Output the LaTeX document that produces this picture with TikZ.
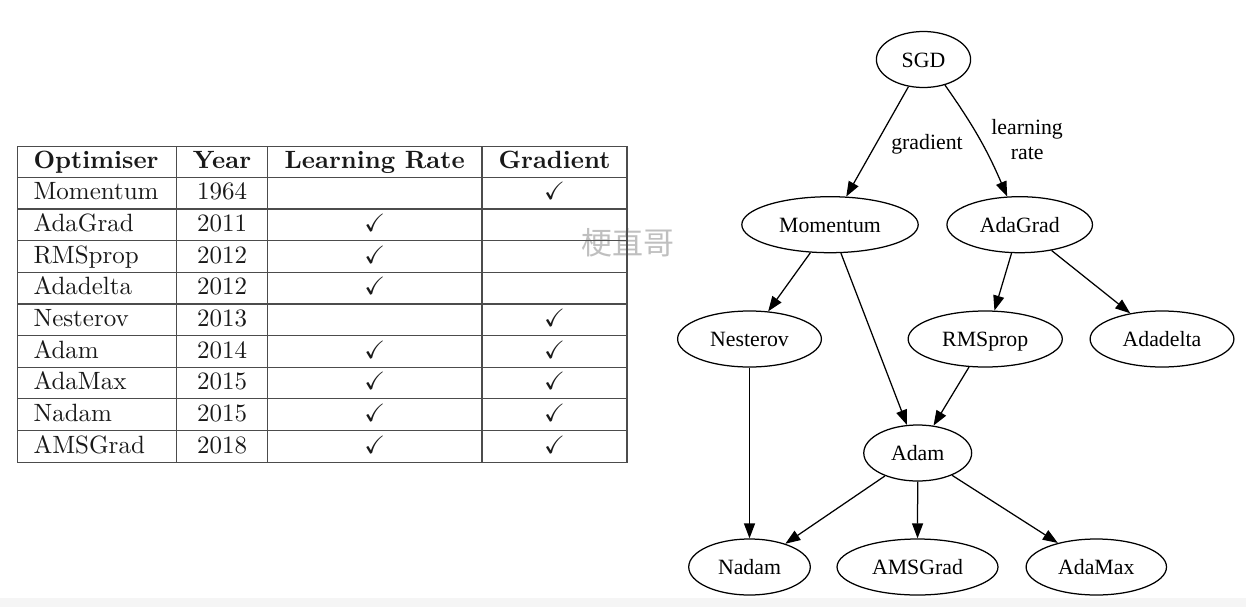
\documentclass[tikz,border=0pt]{standalone}
\usepackage{amssymb}
\usepackage{fontspec}
\newfontfamily\tabfont{lmroman10-regular}[Extension=.otf,BoldFont=lmroman10-bold]
\newfontfamily\graphfont{Liberation Serif}
\newfontfamily\markfont{Noto Sans CJK SC}
\usetikzlibrary{arrows.meta,positioning,shapes.geometric}

\begin{document}
\begin{tikzpicture}[
  x=1pt,y=-1pt,
  >={Triangle[length=15pt,width=11pt]},
  algo/.style={ellipse,draw,line width=1.25pt,minimum height=56pt,
    inner xsep=11.5pt,inner ysep=0pt,text height=19.5pt,text depth=4.3pt,
    font=\graphfont\fontsize{21.8}{25}\selectfont},
  tag/.style={align=center,font=\graphfont\fontsize{21.8}{25}\selectfont},
  link/.style={->,line width=1.25pt},
  cell/.style={anchor=base,inner sep=0pt,text=black!90,
    font=\tabfont\fontsize{25}{30}\selectfont},
  head/.style={cell,font=\tabfont\fontsize{25}{30}\selectfont\bfseries},
  tabline/.style={draw=black!70,line width=1.2pt}
]
  \useasboundingbox (0,0) rectangle (1246,607);
  \fill[black!4] (0,598) rectangle (1246,607);

  % watermark
  \node[text=black!25,font=\markfont\fontsize{31}{31}\selectfont] (mark)
    at (627.5,242.5) {梗直哥};

  % table
  \draw[tabline] (17.3,146.7) rectangle (627,462.2);
  \foreach \k in {0,...,8}
    \draw[tabline] (17.3,{177.3+31.65*\k}) -- (627,{177.3+31.65*\k});
  \foreach \x in {176.7,267.3,482}
    \draw[tabline] (\x,146.7) -- (\x,462.2);

  \node[head,anchor=base west] (h-opt) at (33.3,168.3) {Optimiser};
  \node[head] (h-year) at (222,168.3) {Year};
  \node[head] (h-lr) at (374.7,168.3) {Learning Rate};
  \node[head] (h-gr) at (554.5,168.3) {Gradient};

  \foreach \name/\year/\lr/\gr [count=\i] in {Momentum/1964/0/1,
      AdaGrad/2011/1/0, RMSprop/2012/1/0, Adadelta/2012/1/0,
      Nesterov/2013/0/1, Adam/2014/1/1, AdaMax/2015/1/1,
      Nadam/2015/1/1, AMSGrad/2018/1/1}{
    \node[cell,anchor=base west] (opt-\i) at (33.3,{168.3+31.65*\i}) {\name};
    \node[cell] (year-\i) at (222,{168.3+31.65*\i}) {\year};
    \ifnum\lr=1 \node[cell] (lr-\i) at (374.7,{168.3+31.65*\i}) {$\checkmark$};\fi
    \ifnum\gr=1 \node[cell] (gr-\i) at (554.5,{168.3+31.65*\i}) {$\checkmark$};\fi
  }

  % graph
  \node[algo] (sgd) at (923.5,59.5) {SGD};
  \node[algo] (mom) at (830,224.7) {Momentum};
  \node[algo] (adagrad) at (1019.7,224.7) {AdaGrad};
  \node[algo] (nest) at (749.5,339) {Nesterov};
  \node[algo] (rms) at (985.2,339) {RMSprop};
  \node[algo] (adadelta) at (1162,339) {Adadelta};
  \node[algo] (adam) at (917.7,453) {Adam};
  \node[algo] (nadam) at (749.5,567) {Nadam};
  \node[algo] (ams) at (917.5,567) {AMSGrad};
  \node[algo] (adamax) at (1096.3,567) {AdaMax};

  \draw[link] (sgd.241.7) -- node[tag,midway,right=10pt,yshift=-3pt] (l-grad)
    {gradient} (mom.60.3);
  \draw[link] (sgd.-50.4) to[bend left=6] node[tag,midway,right=8pt,yshift=-1pt] (l-lr)
    {learning\\rate} (adagrad.114.4);
  \draw[link] (mom.-125.9) -- (nest.56.6);
  \draw[link] (mom.-69) -- (adam.111.4);
  \draw[link] (adagrad.-106.9) -- (rms.72.7);
  \draw[link] (adagrad.-39.3) -- (adadelta.141);
  \draw[link] (rms.-120.8) -- (adam.60);
  \draw[link] (nest) -- (nadam);
  \draw[link] (adam.-145.4) -- (nadam.33.6);
  \draw[link] (adam) -- (ams);
  \draw[link] (adam.-33.3) -- (adamax.148.5);
\end{tikzpicture}
\end{document}
